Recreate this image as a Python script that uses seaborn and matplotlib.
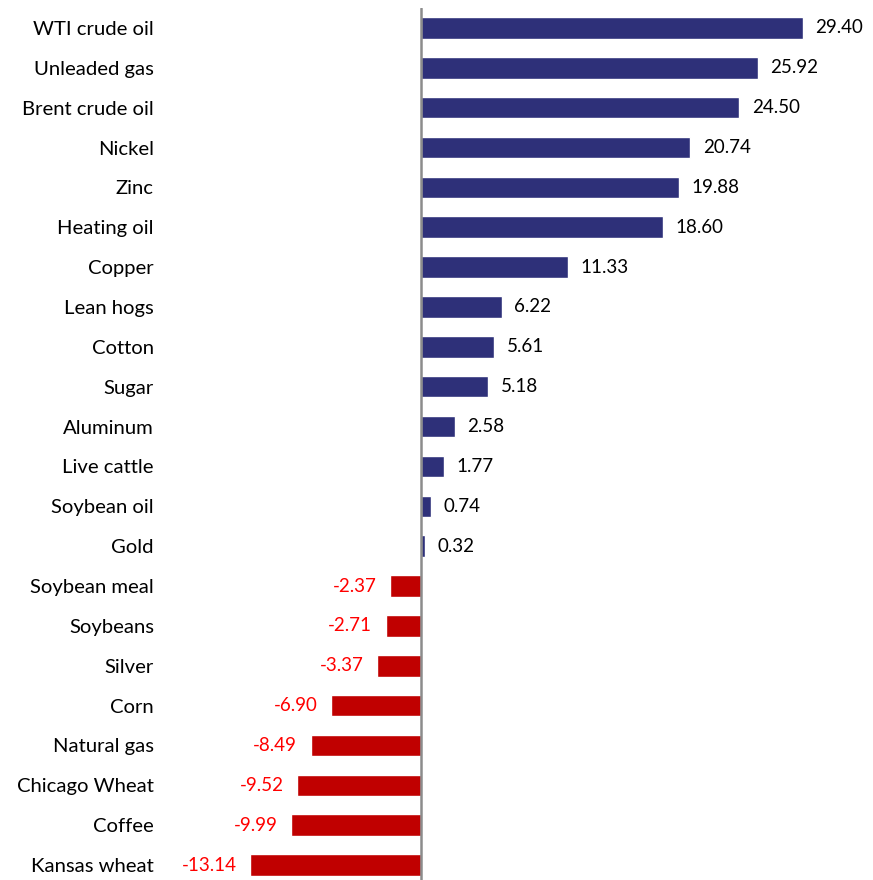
import matplotlib
matplotlib.use("Agg")
import matplotlib.pyplot as plt
import seaborn as sns
import pandas as pd

categories = ["WTI crude oil", "Unleaded gas", "Brent crude oil", "Nickel", "Zinc",
              "Heating oil", "Copper", "Lean hogs", "Cotton", "Sugar", "Aluminum",
              "Live cattle", "Soybean oil", "Gold", "Soybean meal", "Soybeans",
              "Silver", "Corn", "Natural gas", "Chicago Wheat", "Coffee", "Kansas wheat"]
values = [29.40, 25.92, 24.50, 20.74, 19.88, 18.60, 11.33, 6.22, 5.61, 5.18, 2.58,
          1.77, 0.74, 0.32, -2.37, -2.71, -3.37, -6.90, -8.49, -9.52, -9.99, -13.14]

NAVY = "#2E3079"
RED = "#C00000"

sns.set_theme(style="white")
plt.rcParams['font.family'] = ['Lato', 'DejaVu Sans']

df = pd.DataFrame({"cat": categories, "val": values})
df["sign"] = ["pos" if v >= 0 else "neg" for v in values]

W, H = 873, 880
fig = plt.figure(figsize=(W / 100, H / 100), dpi=100)
left_px, right_px, top_px, bot_px = 165, 873, 8, 880
ax = fig.add_axes([left_px / W, 1 - bot_px / H, (right_px - left_px) / W, (bot_px - top_px) / H])

sns.barplot(data=df, y="cat", x="val", hue="sign", palette={"pos": NAVY, "neg": RED},
            orient="h", width=0.54, legend=False, ax=ax, order=categories, saturation=1)

k = (803 - 421) / 29.40
ax.set_xlim((left_px - 421) / k, (right_px - 421) / k)
band = (885 - 8) / 22
ax.set_ylim(21.5 - (885 - bot_px) / band, -0.5)

for s in ax.spines.values():
    s.set_visible(False)
ax.axvline(0, color="#8C8C8C", lw=1.8, zorder=3)
ax.set_xticks([])
ax.set_xlabel("")
ax.set_ylabel("")
ax.tick_params(axis="y", length=0, pad=8, labelsize=14.6, labelcolor="black")

for i, v in enumerate(values):
    if v >= 0:
        ax.annotate(f"{v:.2f}", (v, i), xytext=(9, 0), textcoords="offset points",
                    ha="left", va="center", fontsize=13.5, color="black")
    else:
        ax.annotate(f"{v:.2f}", (v, i), xytext=(-10, 0), textcoords="offset points",
                    ha="right", va="center", fontsize=13.5, color="#FF0000")

fig.savefig("out.png", dpi=100)
